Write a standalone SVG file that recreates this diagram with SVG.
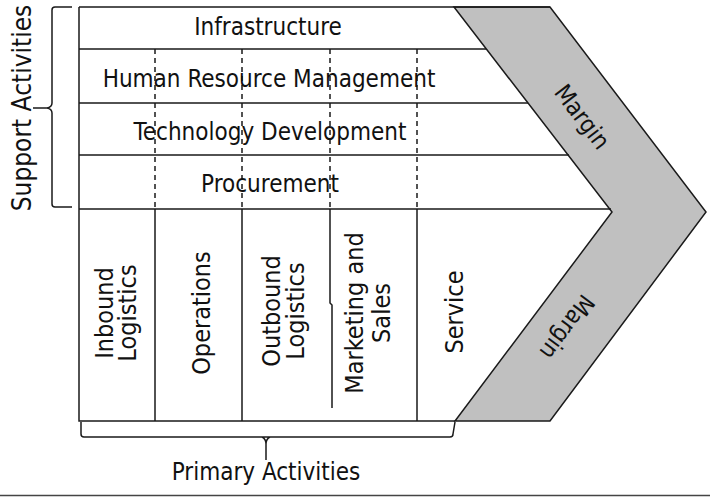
<svg xmlns="http://www.w3.org/2000/svg" width="710" height="497" viewBox="0 0 710 497">
<style>
.ln{stroke:#1a1a1a;stroke-width:1.5;fill:none}
.ds{stroke:#1a1a1a;stroke-width:1.5;fill:none;stroke-dasharray:5,4}
.t{font-family:"DejaVu Sans Condensed","DejaVu Sans",sans-serif;font-stretch:semi-condensed;fill:#111;text-anchor:middle}
.h{font-size:24px}
.v{font-size:25px}
</style>
<rect width="710" height="497" fill="#fff"/>
<g id="margin">
<polygon points="454,7 550,7 706,212 550,421 455,421 612,212" fill="#c0c0c0" stroke="#1a1a1a" stroke-width="1.5"/>
<text class="t h" transform="translate(582,117) rotate(52.7)" x="0" y="8">Margin</text>
<text class="t h" transform="translate(567,327) rotate(126.7)" x="0" y="8">Margin</text>
</g>
<g id="frame">
<path class="ln" d="M79,7 H550 M79,7 V421 H455 M79,49 H486 M79,103 H528 M79,155 H569 M79,209 H611"/>
</g>
<g id="connectors">
<path class="ds" d="M155,49 V209 M242,49 V209 M330,49 V209 M417,49 V209"/>
<path class="ln" d="M155,209 V421 M242,209 V421 M417,209 V421 M330,209 V303 L332,305 V408"/>
</g>
<g id="infrastructure"><text class="t h" x="268" y="35">Infrastructure</text></g>
<g id="hrm"><text class="t h" x="269" y="87">Human Resource Management</text></g>
<g id="techdev"><text class="t h" x="270" y="140">Technology Development</text></g>
<g id="procurement"><text class="t h" x="270" y="192">Procurement</text></g>
<g id="inbound"><text class="t v" transform="translate(113,313) rotate(-90)"><tspan x="0" y="0">Inbound</tspan><tspan x="0" y="23">Logistics</tspan></text></g>
<g id="operations"><text class="t v" transform="translate(210,313) rotate(-90)" x="0" y="0">Operations</text></g>
<g id="outbound"><text class="t v" transform="translate(280,311) rotate(-90)"><tspan x="0" y="0">Outbound</tspan><tspan x="0" y="24">Logistics</tspan></text></g>
<g id="marketing"><text class="t v" transform="translate(363,313) rotate(-90)"><tspan x="0" y="0">Marketing and</tspan><tspan x="0" y="27">Sales</tspan></text></g>
<g id="service"><text class="t v" transform="translate(463,312) rotate(-90)" x="0" y="0">Service</text></g>
<g id="support">
<path class="ln" d="M72,7 H55 Q52,7 52,10 V103 Q52,107 47,108 H33 M47,108 Q52,109 52,113 V204 Q52,207 55,207 H72"/>
<text class="t v" style="font-size:26px" transform="translate(31,108) rotate(-90)" x="0" y="0">Support Activities</text>
</g>
<g id="primary">
<path class="ln" d="M81,422 V434 Q81,437 84,437 H450 Q453,437 453,434 L455,422 M262,437 Q266,439 266,444 V460 M270,437 Q266,439 266,444"/>
<text class="t h" x="266" y="480">Primary Activities</text>
</g>
<line x1="0" y1="495.5" x2="710" y2="495.5" stroke="#444" stroke-width="1.5"/>
</svg>
